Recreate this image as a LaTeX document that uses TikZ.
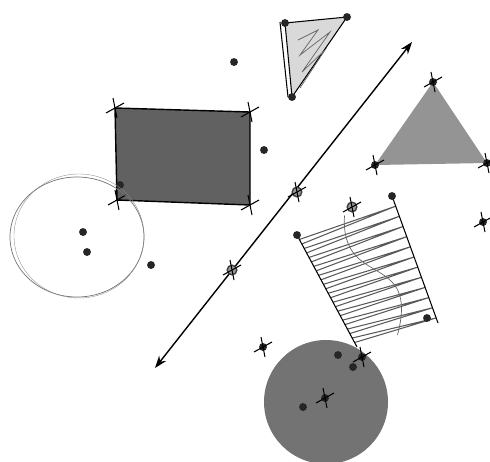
\documentclass[tikz,border=0pt]{standalone}
\usetikzlibrary{calc,arrows.meta}
\tikzset{
  pt/.style={circle, fill=black!85, inner sep=0pt, minimum size=4.5pt},
  gpt/.style={circle, fill=black!40, draw=black!75, inner sep=0pt, minimum size=5.5pt},
  crs/.pic={\draw[semithick] (-9,5) -- (9,-5); \draw[semithick] (-2,-10) -- (2,10);},
}

\begin{document}
\begin{tikzpicture}[x=0.02cm, y=-0.02cm, >={Stealth[length=7pt,width=5pt]}, thick]
      \useasboundingbox (0,0) rectangle (490,461);
      \clip (0,0) rectangle (490,461);
      % the line, open at both ends
      \coordinate (lnA) at (155,368);
      \coordinate (lnB) at (412,42);
      \draw[<->, thick] (lnA) -- (lnB);
      \node[gpt] (ln1) at (297,192) {};
      \node[gpt] (ln2) at (232,270) {};
      \pic at (ln1) {crs};
      \pic at (ln2) {crs};
      % dark rectangle
      \coordinate (r1) at (115,108);
      \coordinate (r2) at (250,112);
      \coordinate (r3) at (250,205);
      \coordinate (r4) at (117,200);
      \filldraw[fill=black!62, draw=black, thick] (r1) -- (r2) -- (r3) -- (r4) -- cycle;
      \foreach \c in {r1,r2,r3,r4} \pic at (\c) {crs};
      \node[pt] (rin) at (120,185) {};
      % open circle
      \draw[thin, black!55] (77,237) ellipse [x radius=67, y radius=60];
      \draw[very thin, black!45] (79,236) ellipse [x radius=65, y radius=62];
      \node[pt] (c1) at (83,232) {};
      \node[pt] (c2) at (87,252) {};
      \node[pt] (o1) at (151,265) {};
      \node[pt] (o2) at (264,150) {};
      \node[pt] (o3) at (234,62) {};
      % small scribbled triangle
      \coordinate (s1) at (285,23);
      \coordinate (s2) at (347,17);
      \coordinate (s3) at (292,97);
      \filldraw[fill=black!15, draw=black, semithick] (s1) -- (s2) -- (s3) -- cycle;
      \draw[semithick] (280,22) -- (288,97);
      \draw[thin, black!60] (298,40) -- (318,30) -- (300,55) -- (330,32) -- (302,72) -- (325,50) -- (300,88);
      \node[pt] (s1d) at (s1) {};
      \node[pt] (s2d) at (s2) {};
      \node[pt] (s3d) at (s3) {};
      % grey triangle
      \coordinate (t1) at (433,82);
      \coordinate (t2) at (487,163);
      \coordinate (t3) at (375,165);
      \fill[black!42] (t1) -- (t2) -- (t3) -- cycle;
      \node[pt] (t1d) at (t1) {};
      \node[pt] (t2d) at (t2) {};
      \node[pt] (t3d) at (t3) {};
      \foreach \c in {t1,t2,t3} \pic at (\c) {crs};
      % scribbled quadrilateral
      \coordinate (q1) at (297,235);
      \coordinate (q2) at (392,196);
      \coordinate (q3) at (438,323);
      \coordinate (q4) at (357,347);
      \foreach \t in {0.04,0.12,...,0.96}
        \draw[semithick, black!65] ($(q1)!\t!(q4)$) -- ($(q2)!\t+0.04!(q3)$) -- ($(q1)!\t+0.04!(q4)$);
      \draw[thin, black!60] ($(q1)!0.5!(q2)$) .. controls (340,290) and (420,250) .. ($(q4)!0.5!(q3)$);
      \draw[semithick] (q1) -- (q4) (q2) -- (q3);
      \node[pt] (q1d) at (q1) {};
      \node[pt] (q2d) at (q2) {};
      \node[pt] (q3d) at (427,318) {};
      \node[gpt] (q5) at (352,207) {};
      \pic at (q5) {crs};
      % dark disc
      \fill[black!55] (326,402) circle (62);
      \node[pt] (d1) at (338,355) {};
      \node[pt] (d2) at (353,367) {};
      \node[pt] (d3) at (362,357) {};
      \node[pt] (d4) at (303,407) {};
      \node[pt] (d5) at (325,398) {};
      \pic at (d5) {crs};
      \pic at (d3) {crs};
      % loose points
      \node[pt] (p1) at (263,347) {};
      \node[pt] (p2) at (483,222) {};
      \pic at (p1) {crs};
      \pic at (p2) {crs};
    \end{tikzpicture}
\end{document}
